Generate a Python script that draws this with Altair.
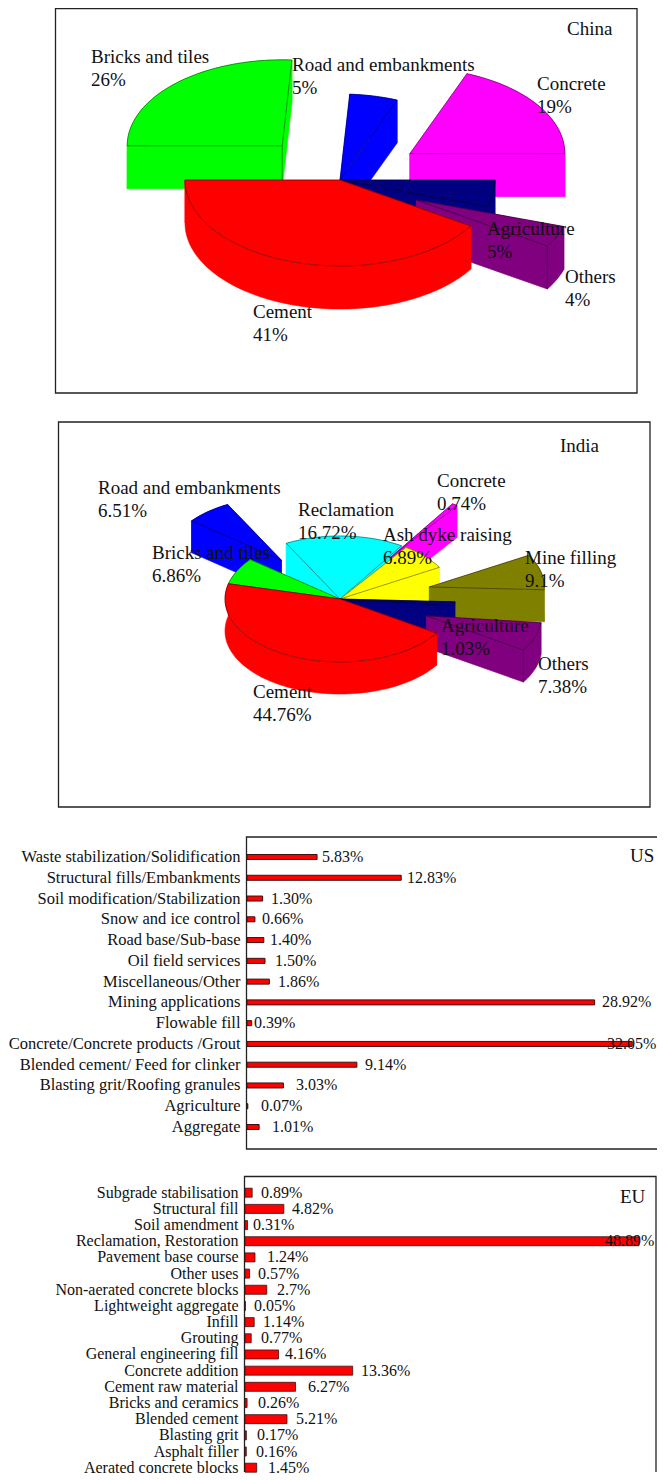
import math
import altair as alt

FONT = "Liberation Serif"
RED, GREEN, BLUE, MAGENTA = "#ff0000", "#00ff00", "#0000ff", "#ff00ff"
NAVY, PURPLE, CYAN, YELLOW, OLIVE = "#000080", "#800080", "#00ffff", "#ffff00", "#808000"

# ---- China pie (counter-clockwise from the left edge)
china_names = ["Cement", "Others", "Agriculture", "Concrete", "Road and embankments", "Bricks and tiles"]
china_values = [41, 4, 5, 19, 5, 26]
china_labels = ["41%", "4%", "5%", "19%", "5%", "26%"]
china_colors = [RED, PURPLE, NAVY, MAGENTA, BLUE, GREEN]
china_exploded = [False, True, False, True, False, True]
china_draw = ["Bricks and tiles", "Road and embankments", "Concrete", "Agriculture", "Others", "Cement"]
china_edges = {"Bricks and tiles": "apex", "Others": "start"}
china_text_pos = {"Cement": (253, 312), "Others": (565, 277), "Agriculture": (487, 229), "Concrete": (537, 84),
                  "Road and embankments": (292, 65), "Bricks and tiles": (91, 57)}

# ---- India pie
india_names = ["Cement", "Others", "Agriculture", "Mine filling", "Ash dyke raising", "Concrete",
               "Reclamation", "Road and embankments", "Bricks and tiles"]
india_values = [44.76, 7.38, 1.03, 9.1, 6.89, 0.74, 16.72, 6.51, 6.86]
india_labels = ["44.76%", "7.38%", "1.03%", "9.1%", "6.89%", "0.74%", "16.72%", "6.51%", "6.86%"]
india_colors = [RED, PURPLE, NAVY, OLIVE, YELLOW, MAGENTA, CYAN, BLUE, GREEN]
india_exploded = [False, True, False, True, False, True, False, True, False]
india_draw = ["Road and embankments", "Reclamation", "Bricks and tiles", "Concrete", "Ash dyke raising",
              "Mine filling", "Agriculture", "Others", "Cement"]
india_edges = {"Others": "start"}
india_text_pos = {"Cement": (253, 692), "Others": (538, 664), "Agriculture": (441, 626), "Mine filling": (525, 558),
                  "Ash dyke raising": (383, 535), "Concrete": (437, 481), "Reclamation": (298, 510),
                  "Road and embankments": (98, 488), "Bricks and tiles": (152, 553)}

# ---- US bars
us_cats = ["Waste stabilization/Solidification", "Structural fills/Embankments", "Soil modification/Stabilization",
           "Snow and ice control", "Road base/Sub-base", "Oil field services", "Miscellaneous/Other",
           "Mining applications", "Flowable fill", "Concrete/Concrete products /Grout",
           "Blended cement/ Feed for clinker", "Blasting grit/Roofing granules", "Agriculture", "Aggregate"]
us_values = [5.83, 12.83, 1.30, 0.66, 1.40, 1.50, 1.86, 28.92, 0.39, 32.05, 9.14, 3.03, 0.07, 1.01]
us_text = ["5.83%", "12.83%", "1.30%", "0.66%", "1.40%", "1.50%", "1.86%", "28.92%", "0.39%", "32.05%",
           "9.14%", "3.03%", "0.07%", "1.01%"]
us_text_start = [322, 407, 271, 262, 270, 275, 278, 602, 254, 607, 365, 296, 261, 272]

# ---- EU bars
eu_cats = ["Subgrade stabilisation", "Structural fill", "Soil amendment", "Reclamation, Restoration",
           "Pavement base course", "Other uses", "Non-aerated concrete blocks", "Lightweight aggregate", "Infill",
           "Grouting", "General engineering fill", "Concrete addition", "Cement raw material", "Bricks and ceramics",
           "Blended cement", "Blasting grit", "Asphalt filler", "Aerated concrete blocks"]
eu_values = [0.89, 4.82, 0.31, 48.89, 1.24, 0.57, 2.7, 0.05, 1.14, 0.77, 4.16, 13.36, 6.27, 0.26, 5.21, 0.17, 0.16, 1.45]
eu_text = ["0.89%", "4.82%", "0.31%", "48.89%", "1.24%", "0.57%", "2.7%", "0.05%", "1.14%", "0.77%", "4.16%",
           "13.36%", "6.27%", "0.26%", "5.21%", "0.17%", "0.16%", "1.45%"]
eu_text_start = [261, 292, 253, 605, 267, 258, 277, 254, 263, 261, 285, 361, 308, 258, 296, 257, 256, 268]

PAGE = 8
W = 649
PANEL_TOPS = [8, 415, 830, 1170]
PANEL_H = [407, 415, 340, 302]


def feature(kind, coords, fill, stroke, sw):
    return {"type": "Feature", "geometry": {"type": kind, "coordinates": coords},
            "properties": {"fill": fill, "stroke": stroke, "sw": sw}}


def pie_features(names, values, colors, exploded, draw, edges, cx, cy, rx, ry, depth, e, start=None):
    total = sum(values)
    t = start
    parts = {}
    for n, v, c, x in zip(names, values, colors, exploded):
        span = 360.0 * v / total
        parts[n] = (t, t - span, c, x)
        t -= span
    out = []
    for n in draw:
        t0, t1, c, x = parts[n]
        mid = math.radians((t0 + t1) / 2)
        ax = cx + (e * rx * math.cos(mid) if x else 0)
        ay = cy + (e * ry * math.sin(mid) if x else 0)
        steps = max(4, int(abs(t0 - t1) / 2))
        arc = []
        for i in range(steps + 1):
            a = math.radians(t0 + (t1 - t0) * i / steps)
            arc.append([ax + rx * math.cos(a), ay + ry * math.sin(a)])
        low = [[p[0], p[1] + depth] for p in arc]
        ring = arc + low[::-1] + [arc[0]]
        out.append(feature("Polygon", [ring], c, c, 0.6))
        for corner in (arc[0], arc[-1]):
            q = [[ax, ay], corner, [corner[0], corner[1] + depth], [ax, ay + depth], [ax, ay]]
            out.append(feature("Polygon", [q], c, c, 0.6))
        if n in edges:
            p = {"apex": [ax, ay], "start": arc[0], "end": arc[-1]}[edges[n]]
            out.append(feature("LineString", [p, [p[0], p[1] + depth]], c, "#000000", 0.4))
        top = [[ax, ay]] + arc + [[ax, ay]]
        out.append(feature("Polygon", [top], c, "#000000", 0.4))
    return out


def text_rows(names, labels, pos, top):
    rows = []
    for n, l in zip(names, labels):
        x, y = pos[n]
        rows.append({"x": x - PAGE, "y": y - top, "t": n})
        rows.append({"x": x - PAGE, "y": y + 23 - top, "t": l})
    return rows


def frame(x0, y0, x1, y1, top):
    return alt.Chart(alt.Data(values=[{}])).mark_rect(
        fillOpacity=0, stroke="#222222", strokeWidth=1.3, clip=True
    ).encode(x=alt.value(x0 - PAGE), x2=alt.value(x1 - PAGE), y=alt.value(y0 - top), y2=alt.value(y1 - top))


def title_text(s, x, y, top, size=19):
    return alt.Chart(alt.Data(values=[{"t": s}])).mark_text(
        font=FONT, fontSize=size, align="left", baseline="middle", color="#111111"
    ).encode(x=alt.value(x - PAGE), y=alt.value(y - top), text="t:N")


def pie_panel(feats, rows, fr, title, w, h):
    shapes = alt.Chart(alt.Data(values=feats)).mark_geoshape().encode(
        fill=alt.Fill("properties.fill:N", scale=None),
        stroke=alt.Stroke("properties.stroke:N", scale=None),
        strokeWidth=alt.StrokeWidth("properties.sw:Q", scale=None),
    ).project(type="identity", scale=1, translate=[0, 0])
    texts = alt.Chart(alt.Data(values=rows)).mark_text(
        font=FONT, fontSize=19, align="left", baseline="middle", color="#111111"
    ).encode(x=alt.X("x:Q", scale=None), y=alt.Y("y:Q", scale=None), text="t:N")
    return alt.layer(fr, shapes, texts, title).properties(width=w, height=h)


def bar_panel(cats, values, text, text_start, fr, title, top, frame_x, first_y, last_y, ppu, bar_size,
              font_size, text_size, stroke_w, h):
    step = (last_y - first_y) / (len(cats) - 1)
    x0 = frame_x - PAGE + 0.5
    xmax = (W - x0) / ppu
    data = [{"c": c, "v": v, "t": t, "at": (s - PAGE - x0) / ppu}
            for c, v, t, s in zip(cats, values, text, text_start)]
    xs = alt.Scale(domain=[0, xmax], range=[x0, W], nice=False, zero=False)
    ys = alt.Scale(type="band", domain=cats, paddingInner=0, paddingOuter=0,
                   range=[first_y - top - step / 2, last_y - top + step / 2])
    yenc = alt.Y("c:N", scale=ys, sort=cats, title=None,
                 axis=alt.Axis(offset=-x0, domain=False, ticks=False, labelFont=FONT, labelFontSize=font_size,
                               labelColor="#111111", labelPadding=7, labelLimit=400, title=None, grid=False))
    bars = alt.Chart(alt.Data(values=data)).mark_bar(
        size=bar_size, color=RED, stroke="#3a1010", strokeWidth=stroke_w
    ).encode(x=alt.X("v:Q", scale=xs, axis=None), y=yenc)
    labels = alt.Chart(alt.Data(values=data)).mark_text(
        font=FONT, fontSize=text_size, align="left", baseline="middle", color="#111111"
    ).encode(x=alt.X("at:Q", scale=xs, axis=None), y=alt.Y("c:N", scale=ys, sort=cats), text="t:N")
    return alt.layer(fr, bars, labels, title).properties(width=W, height=h)


china = pie_panel(
    pie_features(china_names, china_values, china_colors, china_exploded, china_draw, china_edges,
                 340 - PAGE, 180 - PANEL_TOPS[0], 155, 86, 43, 0.545, start=180),
    text_rows(china_names, china_labels, china_text_pos, PANEL_TOPS[0]),
    frame(55.5, 8.7, 637, 393, PANEL_TOPS[0]), title_text("China", 567, 29, PANEL_TOPS[0]), W, PANEL_H[0])

india = pie_panel(
    pie_features(india_names, india_values, india_colors, india_exploded, india_draw, india_edges,
                 340 - PAGE, 599 - PANEL_TOPS[1], 115, 63, 32, 0.8, start=194),
    text_rows(india_names, india_labels, india_text_pos, PANEL_TOPS[1]),
    frame(58.5, 422, 650, 807, PANEL_TOPS[1]), title_text("India", 560, 446, PANEL_TOPS[1]), W, PANEL_H[1])

us = bar_panel(us_cats, us_values, us_text, us_text_start,
               frame(246.5, 837, 700, 1149, PANEL_TOPS[2]), title_text("US", 630, 856, PANEL_TOPS[2]),
               PANEL_TOPS[2], 246.5, 857, 1127, 12.02, 5, 16.5, 16, 1.0, PANEL_H[2])

eu = bar_panel(eu_cats, eu_values, eu_text, eu_text_start,
               frame(244.5, 1176.5, 656, 1600, PANEL_TOPS[3]), title_text("EU", 620, 1197, PANEL_TOPS[3]),
               PANEL_TOPS[3], 244.5, 1192.7, 1467.7, 8.06, 9, 16, 16, 0.8, PANEL_H[3])

chart = alt.vconcat(china, india, us, eu, spacing=0).resolve_scale(
    x="independent", y="independent"
).properties(padding=0).configure_view(stroke=None)

chart.save("out.html", embed_options={"renderer": "svg", "actions": False})
